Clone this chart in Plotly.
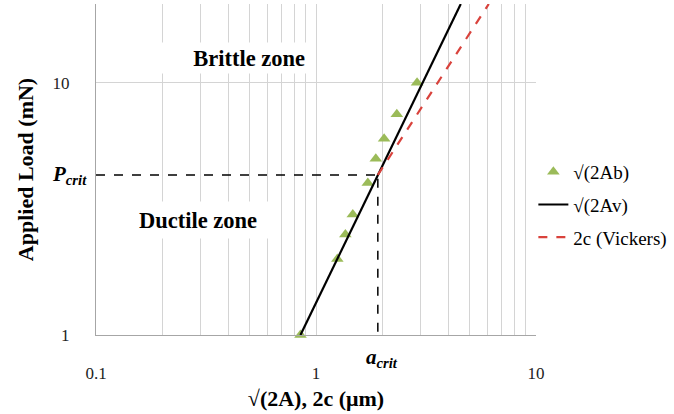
import math
import plotly.graph_objects as go

# Data
ab_x = [0.85, 1.25, 1.36, 1.47, 1.72, 1.87, 2.04, 2.33, 2.88]
ab_y = [1.0, 2.0, 2.5, 3.0, 4.0, 5.0, 6.0, 7.5, 10.0]

av_x = [0.85, 4.55]
av_y = [1.0, 20.5]

vk_x = [1.91, 6.1]
vk_y = [4.31, 20.5]

a_crit = 1.91
p_crit = 4.31

x_ticks = [0.1, 1, 10]
x_minor = [0.2, 0.3, 0.4, 0.5, 0.6, 0.7, 0.8, 0.9, 2, 3, 4, 5, 6, 7, 8, 9]
y_ticks = [1, 10]
x_range = [0.1, 10]
y_range = [1, 20.5]

SERIF = "Liberation Serif"
GREEN = "#9BBB59"
RED = "#D9423C"
GRID = "#d4d4d4"

fig = go.Figure()

# critical dashed guides
fig.add_trace(go.Scatter(x=[x_range[0], a_crit], y=[p_crit, p_crit], mode="lines",
                         line=dict(color="black", width=1.5, dash="dash"),
                         showlegend=False, hoverinfo="skip"))
fig.add_trace(go.Scatter(x=[a_crit, a_crit], y=[1.03, p_crit], mode="lines",
                         line=dict(color="black", width=1.5, dash="dash"),
                         showlegend=False, hoverinfo="skip"))

fig.add_trace(go.Scatter(x=ab_x, y=ab_y, mode="markers", name="√(2Ab)",
                         marker=dict(symbol="triangle-up", size=11, color=GREEN),
                         cliponaxis=False, legendgroup="a"))
fig.add_trace(go.Scatter(x=av_x, y=av_y, mode="lines", name="√(2Av)",
                         line=dict(color="black", width=2.2), legendgroup="b"))
fig.add_trace(go.Scatter(x=vk_x, y=vk_y, mode="lines", name="2c (Vickers)",
                         line=dict(color=RED, width=2.2, dash="dash"), legendgroup="c"))

L, R, T, B = 96, 138, 4, 79
W, H = 674, 414
pw = W - L - R
ph = H - T - B

annos = []
# zone labels
annos.append(dict(x=math.log10(0.411), y=1.099, xref="x", yref="y",
                  text="<b>Brittle zone</b>", showarrow=False, bgcolor="white",
                  width=148, height=28, align="right",
                  font=dict(family=SERIF, size=22.5, color="black")))
annos.append(dict(x=math.log10(0.29), y=0.456, xref="x", yref="y",
                  text="<b>Ductile zone</b>", showarrow=False, bgcolor="white",
                  width=150, height=34, align="center",
                  font=dict(family=SERIF, size=22.5, color="black")))
# P_crit and a_crit labels
annos.append(dict(x=(89 - L) / pw, y=math.log10(p_crit), xref="paper", yref="y",
                  xanchor="right", yanchor="middle", showarrow=False,
                  text="<b><i>P</i></b><sub><b><i>crit</i></b></sub>",
                  font=dict(family=SERIF, size=21, color="black")))
annos.append(dict(x=math.log10(a_crit) + 0.02, y=-(358 - (T + ph)) / ph, xref="x", yref="paper",
                  xanchor="center", yanchor="middle", showarrow=False,
                  text="<b><i>a</i></b><sub><b><i>crit</i></b></sub>",
                  font=dict(family=SERIF, size=21, color="black")))

fig.update_layout(
    width=W, height=H,
    margin=dict(l=L, r=R, t=T, b=B, autoexpand=False),
    paper_bgcolor="white", plot_bgcolor="white",
    font=dict(family=SERIF, color="black"),
    annotations=annos,
    legend=dict(x=0.994, y=0.55, xanchor="left", yanchor="top",
                font=dict(family=SERIF, size=19, color="black"),
                tracegroupgap=5, bgcolor="rgba(0,0,0,0)"),
    xaxis=dict(type="log", range=[math.log10(v) for v in x_range],
               tickvals=x_ticks, ticktext=["0.1", "1", "10"],
               showgrid=True, gridcolor=GRID, gridwidth=1.3,
               minor=dict(tickvals=x_minor, showgrid=True, gridcolor=GRID, gridwidth=1.3),
               showline=True, linecolor="#a6a6a6", linewidth=1.3,
               ticks="", ticklabelstandoff=22, automargin=False,
               tickfont=dict(family=SERIF, size=17, color="#222"),
               title=dict(text="<b>√(2A), 2c (μm)</b>", standoff=9,
                          font=dict(family=SERIF, size=22, color="black"))),
    yaxis=dict(type="log", range=[math.log10(v) for v in y_range],
               tickvals=y_ticks, ticktext=["1", "10"],
               showgrid=True, gridcolor=GRID, gridwidth=1.3,
               showline=True, linecolor="#a6a6a6", linewidth=1.3,
               ticks="", ticklabelstandoff=22, automargin=False,
               tickfont=dict(family=SERIF, size=17, color="#222"),
               title=dict(text="<b>Applied Load (mN)</b>", standoff=12,
                          font=dict(family=SERIF, size=22, color="black"))),
)

fig.write_html("out.html")
